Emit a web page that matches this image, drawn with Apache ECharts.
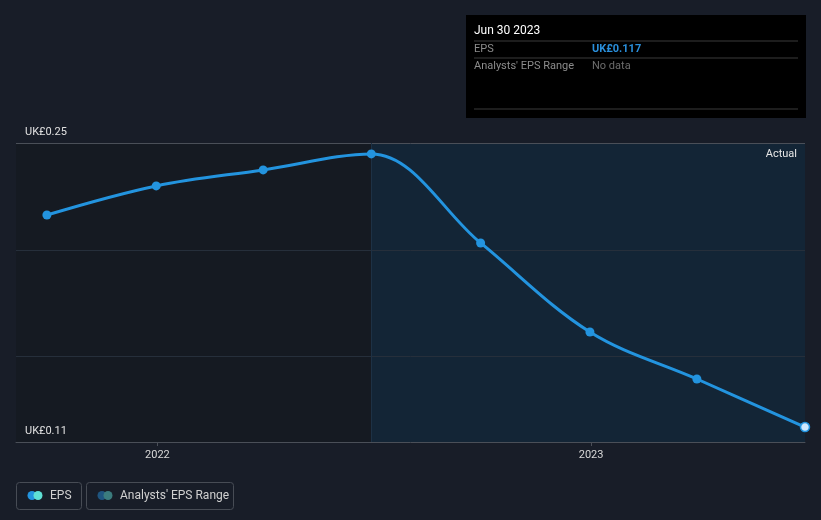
<!DOCTYPE html>
<html><head><meta charset="utf-8">
<script src="https://cdn.jsdelivr.net/npm/echarts@6/dist/echarts.min.js"></script>
<style>html,body{margin:0;padding:0;background:#181d28}#c{width:821px;height:520px}</style>
</head><body><div id="c"></div>
<script>
const dates = ['2021-09-30','2021-12-31','2022-03-31','2022-06-30','2022-09-30','2022-12-31','2023-03-31','2023-06-30'];
const epsValues = [0.2163, 0.2299, 0.2374, 0.2449, 0.2032, 0.1615, 0.1395, 0.117];
const yLabelValues = [0.11, 0.25];
const gridLineValues = [0.15, 0.20];
const topLineValue = 0.25;
const yearTicks = ['2022-01-01','2023-01-01'];
const xMin = '2021-09-04';
const xMax = '2023-06-30';
const forecastStart = '2022-06-30';
const regionLabel = 'Actual';

const ts = d => { const [y,m,dd] = d.split('-').map(Number); return Date.UTC(y, m-1, dd); };
const font = 'Roboto, "Noto Sans", sans-serif';

const seriesData = dates.map((d,i) => {
  const p = { value: [ts(d), epsValues[i]] };
  if (i === dates.length - 1) p.itemStyle = { color: '#cfe9ff', borderColor: '#2394df', borderWidth: 1.5 };
  return p;
});

const chart = echarts.init(document.getElementById('c'));
chart.setOption({
  backgroundColor: '#181d28',
  animation: false,
  textStyle: { fontFamily: font },
  grid: { left: 16, right: 16, top: 143, bottom: 78, show: true, backgroundColor: '#151a22', borderWidth: 0 },
  xAxis: {
    type: 'value', min: ts(xMin), max: ts(xMax), scale: true,
    axisLine: { lineStyle: { color: '#4a4f58', width: 1 } },
    axisTick: { show: true, customValues: yearTicks.map(ts), length: 4, lineStyle: { color: '#4a4f58' } },
    axisLabel: { customValues: yearTicks.map(ts), color: '#d8d8d8', fontSize: 11, margin: 8, fontFamily: font,
      formatter: v => String(new Date(v).getUTCFullYear()) },
    splitLine: { show: false }
  },
  yAxis: {
    type: 'value', min: 0.11, max: 0.25,
    axisLine: { show: false }, axisTick: { show: false }, splitLine: { show: false },
    axisLabel: { customValues: yLabelValues, inside: true, margin: 9, verticalAlign: 'bottom', color: '#e0e0e0', fontSize: 11, fontFamily: font,
      padding: [0,0,5,0],
      formatter: v => 'UK£' + (+v).toFixed(2) }
  },
  series: [{
    type: 'line', data: [[ts(forecastStart), null]], z: 1, silent: true, symbol: 'none',
    markArea: {
      silent: true,
      itemStyle: { color: '#132536' },
      label: { show: true, position: 'insideTopRight', formatter: regionLabel, color: '#e6e6e6', fontSize: 11, fontFamily: font, distance: 6, offset: [-2, 0] },
      data: [[{ xAxis: ts(forecastStart), yAxis: 0.25, name: regionLabel }, { xAxis: ts(xMax), yAxis: 0.11 }]]
    },
    markLine: {
      silent: true, symbol: 'none', label: { show: false },
      data: [
        ...gridLineValues.map(v => ({ yAxis: v, lineStyle: { color: '#262f3b', width: 1, type: 'solid' } })),
        { yAxis: topLineValue, lineStyle: { color: '#4a4f58', width: 1, type: 'solid' } },
        { xAxis: ts(forecastStart), lineStyle: { color: '#1d3145', width: 1, type: 'solid' } }
      ]
    }
  }, {
    type: 'line', smooth: 0.35, data: seriesData, z: 5,
    symbol: 'circle', symbolSize: 9,
    lineStyle: { color: '#2394df', width: 3 },
    itemStyle: { color: '#2394df' },
    clip: true
  }],
  graphic: [
    { type: 'rect', shape: { x: 466, y: 15, width: 340, height: 103 }, style: { fill: '#000000' } },
    { type: 'text', x: 474, y: 31, style: { text: 'Jun 30 2023', fill: '#ffffff', font: '12px ' + font, verticalAlign: 'middle' } },
    { type: 'line', shape: { x1: 474, y1: 41, x2: 798, y2: 41 }, style: { stroke: '#3a3a3a', lineWidth: 1 } },
    { type: 'text', x: 474, y: 49, style: { text: 'EPS', fill: '#8c8c8c', font: '11px ' + font, verticalAlign: 'middle' } },
    { type: 'text', x: 592, y: 49, style: { text: 'UK£0.117', fill: '#2a8fdb', font: 'bold 11px ' + font, verticalAlign: 'middle' } },
    { type: 'line', shape: { x1: 474, y1: 58, x2: 798, y2: 58 }, style: { stroke: '#3a3a3a', lineWidth: 1 } },
    { type: 'text', x: 474, y: 66, style: { text: "Analysts' EPS Range", fill: '#8c8c8c', font: '11px ' + font, verticalAlign: 'middle' } },
    { type: 'text', x: 592, y: 66, style: { text: 'No data', fill: '#6c6c6c', font: '11px ' + font, verticalAlign: 'middle' } },
    { type: 'line', shape: { x1: 474, y1: 109, x2: 798, y2: 109 }, style: { stroke: '#3a3a3a', lineWidth: 1 } },

    { type: 'rect', shape: { x: 16.5, y: 482.5, width: 65, height: 27, r: 3 }, style: { fill: 'none', stroke: '#474c55', lineWidth: 1 } },
    { type: 'circle', shape: { cx: 32, cy: 495.5, r: 4.5 }, style: { fill: '#2394df' } },
    { type: 'circle', shape: { cx: 38, cy: 495.5, r: 4.5 }, style: { fill: '#5fe0d5' } },
    { type: 'text', x: 50, y: 495.5, style: { text: 'EPS', fill: '#d0d0d0', font: '12px ' + font, verticalAlign: 'middle' } },
    { type: 'rect', shape: { x: 86.5, y: 482.5, width: 147, height: 27, r: 3 }, style: { fill: 'none', stroke: '#474c55', lineWidth: 1 } },
    { type: 'circle', shape: { cx: 102, cy: 495.5, r: 4.5 }, style: { fill: '#1f5580' } },
    { type: 'circle', shape: { cx: 108, cy: 495.5, r: 4.5 }, style: { fill: '#3b7c7e' } },
    { type: 'text', x: 120, y: 495.5, style: { text: "Analysts' EPS Range", fill: '#d0d0d0', font: '12px ' + font, verticalAlign: 'middle' } }
  ]
});
</script></body></html>
